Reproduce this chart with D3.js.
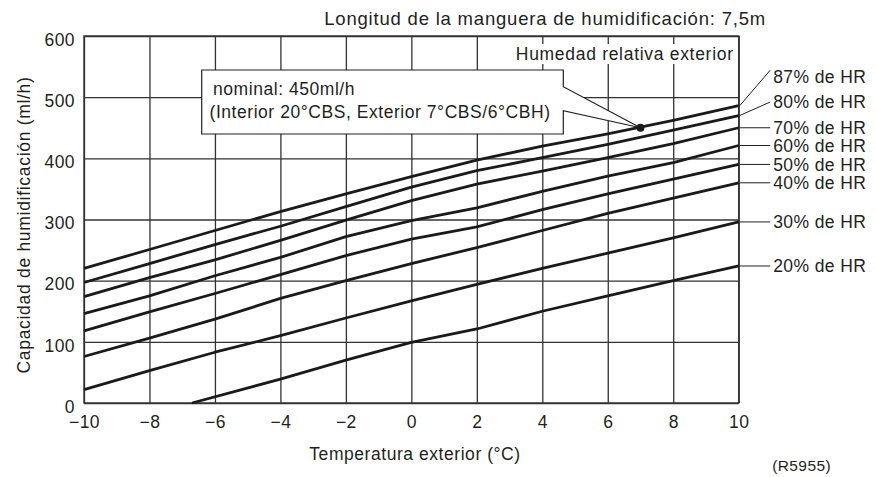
<!DOCTYPE html>
<html>
<head>
<meta charset="utf-8">
<script src="https://cdn.jsdelivr.net/npm/d3@7"></script>
<style>
  body { margin: 0; background: #fff; }
  text { font-family: "Liberation Sans", Arial, sans-serif; fill: #231f20; }
</style>
</head>
<body>
<div id="chart"></div>
<script>
// temperatures (°C) and humidification capacity (ml/h) per outdoor relative humidity
const temps = [-10, -8, -6, -4, -2, 0, 2, 4, 6, 8, 10];
const hr87 = [220, 251, 282, 313, 342, 370, 397, 420, 440, 462, 486];
const hr80 = [197, 228, 259, 289, 321, 353, 380, 401, 423, 446, 470];
const hr70 = [174, 205, 234, 266, 299, 331, 358, 379, 401, 424, 450];
const hr60 = [146, 175, 208, 238, 272, 298, 319, 346, 371, 393, 421];
const hr50 = [118, 149, 179, 210, 241, 268, 288, 316, 342, 366, 390];
const hr40 = [76, 106, 137, 171, 200, 228, 254, 282, 310, 335, 360];
const hr30 = [22, 53, 83, 110, 139, 167, 194, 220, 245, 270, 296];
const temps20 = [-6.7, -4, -2, 0, 2, 4, 6, 8, 10];
const hr20 = [0, 39, 70, 99, 121, 150, 175, 200, 224];
const seriesNames = ["87% de HR", "80% de HR", "70% de HR", "60% de HR", "50% de HR", "40% de HR", "30% de HR", "20% de HR"];
const xTicks = [-10, -8, -6, -4, -2, 0, 2, 4, 6, 8, 10];
const yTicks = [0, 100, 200, 300, 400, 500, 600];
const nominalPoint = [7, 450];

const margin = { top: 36, right: 136.3, bottom: 74, left: 84 };
const outerWidth = 875;
const outerHeight = 477;
const innerWidth = outerWidth - margin.left - margin.right;
const innerHeight = outerHeight - margin.top - margin.bottom;
const gridColor = "#333";
const fontSize = 17.5;
const spacing = "0.4px";

const series = [
  { name: seriesNames[0], x: temps, y: hr87, labelDy: -29.5 },
  { name: seriesNames[1], x: temps, y: hr80, labelDy: -13.5 },
  { name: seriesNames[2], x: temps, y: hr70, labelDy: 0 },
  { name: seriesNames[3], x: temps, y: hr60, labelDy: 0 },
  { name: seriesNames[4], x: temps, y: hr50, labelDy: 0 },
  { name: seriesNames[5], x: temps, y: hr40, labelDy: 0 },
  { name: seriesNames[6], x: temps, y: hr30, labelDy: 0 },
  { name: seriesNames[7], x: temps20, y: hr20, labelDy: 0 }
];

const svg = d3.select("#chart")
  .append("svg")
  .attr("width", outerWidth)
  .attr("height", outerHeight);

const g = svg.append("g")
  .attr("transform", "translate(" + margin.left + "," + margin.top + ")");

const xScale = d3.scaleLinear().domain([-10, 10]).range([0, innerWidth]);
const yScale = d3.scaleLinear().domain([0, 600]).range([innerHeight, 0]);

// grid
const xGrid = g.append("g")
  .attr("transform", "translate(0," + innerHeight + ")")
  .call(d3.axisBottom(xScale).tickValues(xTicks).tickSize(-innerHeight).tickFormat(""));
const yGrid = g.append("g")
  .call(d3.axisLeft(yScale).tickValues(yTicks).tickSize(-innerWidth).tickFormat(""));
[xGrid, yGrid].forEach(function(a) {
  a.select(".domain").remove();
  a.selectAll("line").attr("stroke", gridColor).attr("stroke-width", 1.3);
});

g.append("rect")
  .attr("width", innerWidth)
  .attr("height", innerHeight)
  .attr("fill", "none")
  .attr("stroke", gridColor)
  .attr("stroke-width", 1.4);

// tick labels
const xAxis = g.append("g")
  .attr("transform", "translate(0," + innerHeight + ")")
  .call(d3.axisBottom(xScale).tickValues(xTicks).tickSize(0).tickPadding(0));
xAxis.select(".domain").remove();
xAxis.selectAll("text")
  .attr("y", 25).attr("dy", null)
  .style("font-size", fontSize + "px")
  .style("font-family", "'Liberation Sans', Arial, sans-serif")
  .style("letter-spacing", spacing)
  .attr("fill", "#231f20");

const yAxis = g.append("g")
  .call(d3.axisLeft(yScale).tickValues(yTicks).tickSize(0).tickPadding(9));
yAxis.select(".domain").remove();
yAxis.selectAll("text")
  .attr("dy", null).attr("y", 9.3)
  .style("font-size", fontSize + "px")
  .style("font-family", "'Liberation Sans', Arial, sans-serif")
  .style("letter-spacing", spacing)
  .attr("fill", "#231f20");

// humidity lines
const lineGenerator = d3.line()
  .x(function(d) { return xScale(d[0]); })
  .y(function(d) { return yScale(d[1]); });

g.selectAll(".hrLine")
  .data(series)
  .enter()
  .append("path")
  .attr("class", "hrLine")
  .attr("fill", "none")
  .attr("stroke", "#1a1a1a")
  .attr("stroke-width", 2.8)
  .attr("stroke-linejoin", "round")
  .attr("d", function(d) { return lineGenerator(d.x.map(function(t, i) { return [t, d.y[i]]; })); });

// right-side labels with leaders
series.forEach(function(s) {
  const endY = yScale(s.y[s.y.length - 1]);
  const labelY = endY + s.labelDy;
  g.append("line")
    .attr("x1", innerWidth + 1).attr("y1", endY)
    .attr("x2", innerWidth + 31.5).attr("y2", labelY - (s.labelDy < -20 ? 6 : 0))
    .attr("stroke", "#231f20")
    .attr("stroke-width", 1);
  g.append("text")
    .attr("x", innerWidth + 34.5)
    .attr("y", labelY + 6.3)
    .style("font-size", fontSize + "px")
    .style("letter-spacing", spacing)
    .text(s.name);
});

// "Humedad relativa exterior" label with white background
const hreLabel = g.append("text")
  .attr("x", innerWidth - 5)
  .attr("y", 24)
  .attr("text-anchor", "end")
  .style("font-size", fontSize + "px")
  .style("letter-spacing", "0.7px")
  .text("Humedad relativa exterior");
const hb = hreLabel.node().getBBox();
g.insert("rect", function() { return hreLabel.node(); })
  .attr("x", hb.x - 3).attr("y", hb.y)
  .attr("width", hb.width + 5).attr("height", hb.height)
  .attr("fill", "#fff");

// nominal callout
const px = xScale(nominalPoint[0]);
const py = yScale(nominalPoint[1]);
const bx0 = 201.7 - margin.left, bx1 = 563.3 - margin.left;
const by0 = 70 - margin.top, by1 = 134 - margin.top;
const notch0 = 86.7 - margin.top, notch1 = 110.7 - margin.top;
g.append("path")
  .attr("d", "M" + bx0 + "," + by0 + "H" + bx1 + "V" + notch0 + "L" + px + "," + py +
    "L" + bx1 + "," + notch1 + "V" + by1 + "H" + bx0 + "Z")
  .attr("fill", "#fff")
  .attr("stroke", "#231f20")
  .attr("stroke-width", 1.2);
g.append("circle")
  .attr("cx", px).attr("cy", py).attr("r", 4)
  .attr("fill", "#1a1a1a");
g.append("text")
  .attr("x", 213 - margin.left).attr("y", 94.5 - margin.top)
  .style("font-size", fontSize + "px")
  .style("letter-spacing", "0.55px")
  .text("nominal: 450ml/h");
g.append("text")
  .attr("x", 209.5 - margin.left).attr("y", 118 - margin.top)
  .style("font-size", fontSize + "px")
  .style("letter-spacing", "0.55px")
  .text("(Interior 20°CBS, Exterior 7°CBS/6°CBH)");

// titles
svg.append("text")
  .attr("x", 766).attr("y", 25)
  .attr("text-anchor", "end")
  .style("font-size", "18.5px")
  .style("letter-spacing", "0.8px")
  .text("Longitud de la manguera de humidificación: 7,5m");

svg.append("text")
  .attr("x", 415).attr("y", 459.5)
  .attr("text-anchor", "middle")
  .style("font-size", fontSize + "px")
  .style("letter-spacing", "0.55px")
  .text("Temperatura exterior (°C)");

svg.append("text")
  .attr("transform", "translate(29.5,225) rotate(-90)")
  .attr("text-anchor", "middle")
  .style("font-size", fontSize + "px")
  .style("letter-spacing", "0.7px")
  .text("Capacidad de humidificación (ml/h)");

svg.append("text")
  .attr("x", 831).attr("y", 471)
  .attr("text-anchor", "end")
  .style("font-size", "15.5px")
  .style("letter-spacing", spacing)
  .text("(R5955)");
</script>
</body>
</html>
